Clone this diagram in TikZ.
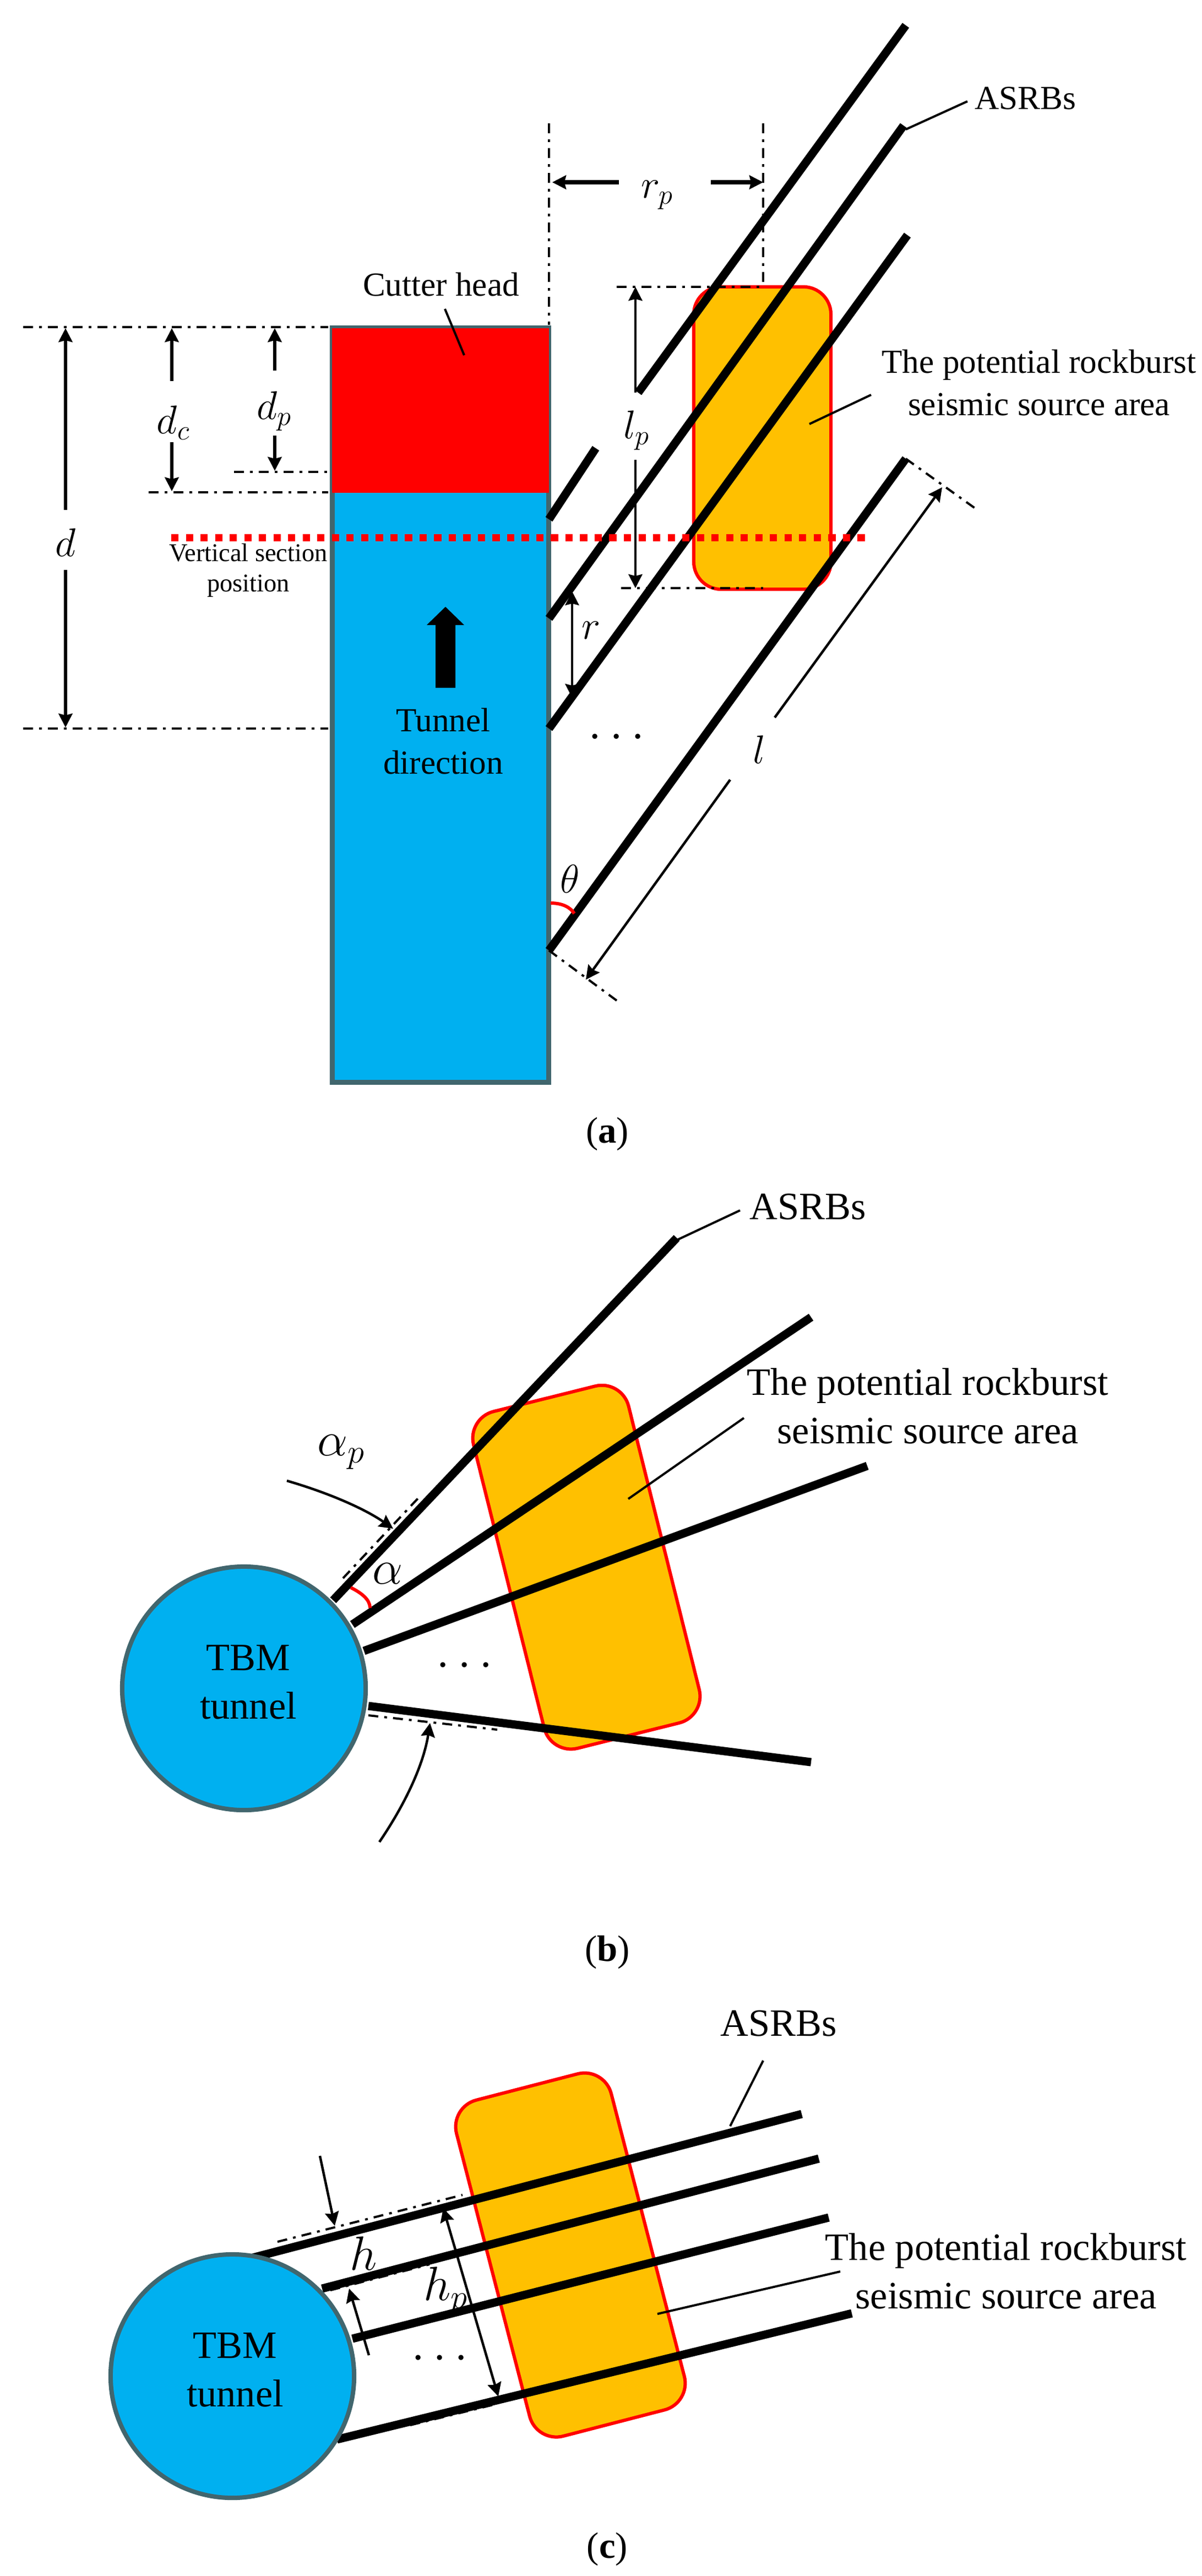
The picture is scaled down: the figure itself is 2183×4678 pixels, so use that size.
\documentclass[tikz,border=0pt]{standalone}
\usepackage{fontspec}
\setmainfont{Liberation Serif}
\usetikzlibrary{arrows.meta}
\definecolor{tunnelblue}{HTML}{00B0F0}
\definecolor{areaorange}{HTML}{FFC000}
\definecolor{edgegrey}{HTML}{41666E}
\tikzstyle{bolt} = [black, line width=0.15cm]
\tikzstyle{area} = [rectangle, rounded corners=0.5cm, draw=red, line width=0.06cm, fill=areaorange, minimum width=2.9cm, inner sep=0pt]
\tikzstyle{extline} = [black, line width=0.04cm, dash pattern=on 0.18cm off 0.11cm on 0.05cm off 0.11cm]
\tikzstyle{dimarrow} = [black, line width=0.045cm, >={Stealth[length=0.25cm,width=0.25cm,inset=0.03cm]}]
\tikzstyle{thickdim} = [dimarrow, line width=0.065cm]
\tikzstyle{leader} = [black, line width=0.04cm]
\tikzstyle{tunnelcircle} = [circle, draw=edgegrey, line width=0.08cm, fill=tunnelblue, minimum size=4.42cm, inner sep=0pt]
\tikzstyle{txt} = [inner sep=0pt, align=center, font=\fontsize{17.4}{22}\selectfont]
\tikzstyle{bigtxt} = [inner sep=0pt, align=center, font=\fontsize{20}{25}\selectfont]
\tikzstyle{sym} = [inner sep=0pt, font=\fontsize{20}{24}\selectfont]
\tikzstyle{bigsym} = [inner sep=0pt, font=\fontsize{23}{27}\selectfont]
\tikzstyle{dotted3} = [inner sep=0pt, font=\fontsize{30}{34}\selectfont]
\tikzstyle{panel} = [inner sep=0pt, font=\fontsize{19}{22}\selectfont]
\begin{document}
\begin{tikzpicture}[x=0.01cm,y=-0.01cm]
\useasboundingbox (0,0) rectangle (2183,4678);

% (a)
\node (tunnelbody) [rectangle, draw=edgegrey, line width=0.09cm, fill=tunnelblue, minimum width=3.935cm, minimum height=13.69cm, inner sep=0pt] at (800,1280.5) {};
\node (cutterhead) [rectangle, fill=red, minimum width=3.935cm, minimum height=2.99cm, inner sep=0pt] at (800,745.5) {};
\node (areaa) [area, minimum width=2.49cm, minimum height=5.49cm] at (1384.5,795.5) {};

\draw [bolt] (997,943) -- (1082,814);
\draw [bolt] (1159,713) -- (1645,46);
\draw [bolt] (997,1123) -- (1641,228);
\draw [bolt] (997,1323) -- (1648,427);
\draw [bolt] (997,1726) -- (1645,833);

\draw [extline] (42,594) -- (596,594);
\draw [extline] (270,894) -- (596,894);
\draw [extline] (425,857) -- (604,857);
\draw [extline] (42,1323) -- (596,1323);
\draw [extline] (997,224) -- (997,590);
\draw [extline] (1386,224) -- (1386,521);
\draw [extline] (1120,521) -- (1386,521);
\draw [extline] (1128,1068) -- (1386,1068);
\draw [extline] (1645,833) -- (1775,926);
\draw [extline] (997,1726) -- (1120,1817);

\draw [thickdim,->] (119,926) -- (119,596);
\draw [thickdim,->] (119,1035) -- (119,1321);
\draw [thickdim,->] (312,692) -- (312,596);
\draw [thickdim,->] (312,803) -- (312,892);
\draw [thickdim,->] (499,673) -- (499,596);
\draw [thickdim,->] (499,791) -- (499,855);
\draw [dimarrow,->,line width=0.08cm] (1124,331) -- (1003,331);
\draw [dimarrow,->,line width=0.08cm] (1291,331) -- (1386,331);
\draw [dimarrow,->] (1154,713) -- (1154,521);
\draw [dimarrow,->] (1154,835) -- (1154,1068);
\draw [dimarrow,<->] (1039,1074) -- (1039,1267);
\draw [dimarrow,->] (1407,1303) -- (1711,885);
\draw [dimarrow,->] (1326,1416) -- (1064,1779);

\draw [red, line width=0.06cm] (1000,1640) .. controls (1022,1640) and (1036,1648) .. (1043,1659);

\node (dd) [sym] at (119,985) {$d$};
\node (dc) [sym] at (315,768) {$d_c$};
\node (dp) [sym] at (498,747) {$d_p$};
\node (rp) [sym] at (1194,354) {$r_p$};
\node (lp) [sym] at (1156,782) {$l_p$};
\node (rr) [sym] at (1074,1145) {$r$};
\node (ll) [sym] at (1379,1361) {$l$};
\node (thetaa) [sym] at (1035,1596) {$\theta$};
\node (dotsa) [dotted3] at (1120,1340) {$\cdots$};

\node (cuttertext) [txt] at (801,517) {Cutter head};
\draw [leader] (808,561) -- (843,645);
\node (asrbsa) [txt] at (1862,179) {ASRBs};
\draw [leader] (1757,184) -- (1645,235);
\node (potentiala) [txt] at (1887,695) {The potential rockburst\\seismic source area};
\draw [leader] (1582,717) -- (1470,770);
\node (sectiontext) [inner sep=0pt, align=center, font=\fontsize{13.2}{15.6}\selectfont] at (451,1036) {Vertical section\\position};
\node (directiontext) [txt] at (805,1346) {Tunnel\\direction};
\fill [black] (791,1249) -- (791,1135) -- (775,1135) -- (809,1102) -- (843,1135) -- (827,1135) -- (827,1249) -- cycle;
\draw [red, line width=0.13cm, dash pattern=on 0.133cm off 0.132cm] (311,976) -- (1571,976);
\node (captiona) [panel] at (1103,2059) {(\textbf{a})};

% (b)
\node (areab) [area, rotate=14, minimum height=6.3cm] at (1065,2846) {};
\draw [bolt] (605,2906) -- (1229,2248);
\draw [bolt] (640,2950) -- (1473,2392);
\draw [bolt] (661,2998) -- (1575,2662);
\draw [bolt] (669,3098) -- (1473,3200);
\node (tunnelb) [tunnelcircle] at (443,3066) {};
\node (tbmb) [bigtxt] at (451,3055) {TBM\\tunnel};

\draw [extline] (623,2866) -- (760,2720);
\draw [extline] (669,3115) -- (903,3141);
\draw [dimarrow,->] (521,2689) .. controls (610,2715) and (670,2745) .. (714,2776);
\draw [dimarrow,->] (689,3345) .. controls (740,3270) and (770,3200) .. (781,3129);
\draw [red, line width=0.06cm] (637,2883) .. controls (657,2893) and (672,2905) .. (672,2920);

\node (alphap) [bigsym] at (620,2637) {$\alpha_p$};
\node (alphab) [bigsym] at (704,2858) {$\alpha$};
\node (dotsb) [dotted3] at (844,3026) {$\cdots$};
\node (asrbsb) [bigtxt] at (1467,2192) {ASRBs};
\draw [leader] (1344,2198) -- (1229,2252);
\node (potentialb) [bigtxt] at (1685,2553) {The potential rockburst\\seismic source area};
\draw [leader] (1351,2575) -- (1141,2722);
\node (captionb) [panel] at (1103,3545) {(\textbf{b})};

% (c)
\node (areac) [area, rotate=14.5, minimum height=6.3cm] at (1036,4095) {};
\node (hp) [bigsym] at (810,4160) {$h_p$};
\draw [extline] (504,4071) -- (840,3986);
\draw [extline] (600,4159) -- (780,4112);
\draw [extline] (745,4404) -- (900,4366);
\draw [bolt] (455,4101) -- (1456,3839);
\draw [bolt] (585,4156) -- (1487,3920);
\draw [bolt] (640,4247) -- (1505,4027);
\draw [bolt] (612,4430) -- (1547,4201);
\node (tunnelc) [tunnelcircle] at (422,4315) {};
\node (tbmc) [bigtxt] at (427,4304) {TBM\\tunnel};

\draw [dimarrow,->] (581,3915) -- (608,4042);
\draw [dimarrow,->] (670,4277) -- (634,4156);
\draw [dimarrow,<->] (805,4010) -- (905,4352);

\node (hh) [bigsym] at (660,4092) {$h$};
\node (dotsc) [dotted3] at (799,4284) {$\cdots$};
\node (asrbsc) [bigtxt] at (1414,3675) {ASRBs};
\draw [leader] (1386,3742) -- (1326,3861);
\node (potentialc) [bigtxt] at (1827,4124) {The potential rockburst\\seismic source area};
\draw [leader] (1526,4125) -- (1194,4202);
\node (captionc) [panel] at (1103,4629) {(\textbf{c})};
\end{tikzpicture}
\end{document}
